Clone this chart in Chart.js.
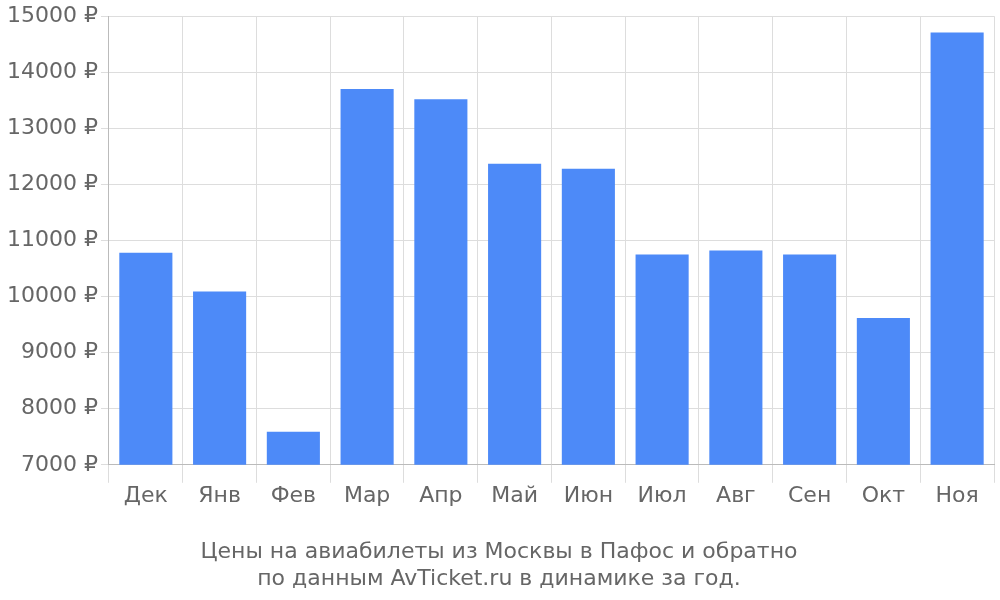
<!DOCTYPE html>
<html><head><meta charset="utf-8">
<script src="https://cdn.jsdelivr.net/npm/chart.js@4/dist/chart.umd.min.js"></script>
<style>html,body{margin:0;padding:0;background:#fff}#w{width:1000px;height:600px}</style>
</head><body><div id="w"><canvas id="c"></canvas></div>
<script>
const categories = ["Дек","Янв","Фев","Мар","Апр","Май","Июн","Июл","Авг","Сен","Окт","Ноя"];
const prices = [10780,10090,7590,13700,13520,12370,12280,10750,10820,10750,9620,14710];
const titleLines = ["Цены на авиабилеты из Москвы в Пафос и обратно","по данным AvTicket.ru в динамике за год."];
Chart.defaults.font.family = "DejaVu Sans";
Chart.defaults.color = "#666";
new Chart(document.getElementById('c'), {
  type: 'bar',
  data: { labels: categories, datasets: [{ data: prices, backgroundColor: '#4d8af8', barPercentage: 0.72, categoryPercentage: 1 }] },
  options: {
    responsive: true, maintainAspectRatio: false, animation: false,
    layout: { padding: { left: 4, right: 6, top: 4, bottom: 4 } },
    plugins: {
      legend: { display: false }, tooltip: { enabled: false },
      title: { display: true, position: 'bottom', text: titleLines, font: { size: 22, weight: 'normal' }, color: '#666', lineHeight: 1.2, padding: { top: 30, bottom: 4 } }
    },
    scales: {
      x: { grid: { color: '#ddd', offset: true, tickLength: 18 }, border: { color: '#bbb' }, ticks: { font: { size: 22 }, color: '#666', padding: 0 } },
      y: { min: 7000, max: 15000, grid: { color: '#ddd', tickLength: 8 }, border: { color: '#bbb' },
           ticks: { stepSize: 1000, font: { size: 22 }, color: '#666', callback: v => v + ' ₽' } }
    }
  }
});
</script></body></html>
